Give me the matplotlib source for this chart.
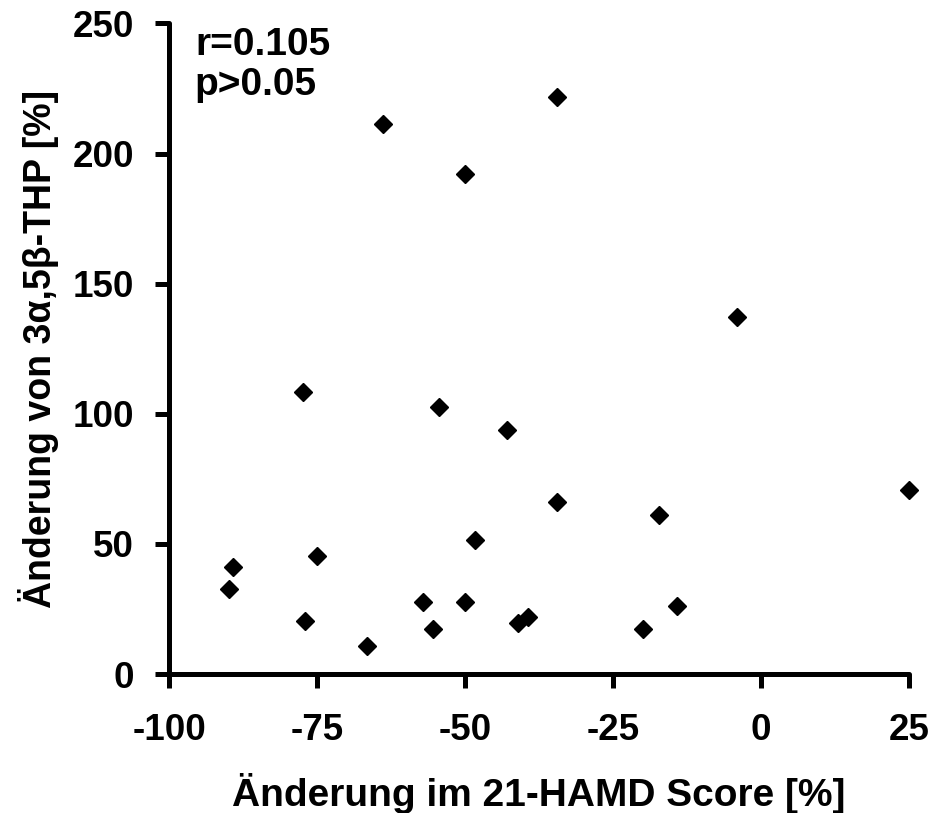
import matplotlib
matplotlib.use("Agg")
import matplotlib.pyplot as plt

# change in 21-HAMD score [%] vs change in 3a,5b-THP [%]
hamd_change = [-77.3, -75.0, -89.2, -89.9, -77.0, -66.5,
               -54.4, -42.9, -34.4, -48.3, -57.1, -50.0, -55.4, -41.0, -39.3,
               25.0, -17.3, -14.2, -19.9,
               -63.8, -34.4, -50.0, -4.1]
thp_change = [108.3, 45.5, 41.0, 32.8, 20.2, 10.6,
              102.5, 93.6, 66.2, 51.4, 27.8, 27.8, 17.2, 19.5, 21.9,
              70.6, 61.1, 26.1, 17.3,
              211.4, 221.8, 192.1, 137.3]

x_ticks = [-100, -75, -50, -25, 0, 25]
y_ticks = [0, 50, 100, 150, 200, 250]

plt.rcParams['font.family'] = ['Liberation Sans', 'DejaVu Sans']
plt.rcParams['font.weight'] = 'bold'

fig = plt.figure(figsize=(9.34, 8.13), dpi=100)
ax = fig.add_axes([169 / 934, 1 - 674 / 813, 740 / 934, 650.5 / 813])

ax.plot(hamd_change, thp_change, linestyle='none', marker='D',
        markersize=9.5, color='black', clip_on=False)

ax.set_xlim(-100, 25)
ax.set_ylim(0, 250)
ax.set_xticks(x_ticks)
ax.set_yticks(y_ticks)
ax.set_xticklabels([str(v) for v in x_ticks])

for side in ['top', 'right']:
    ax.spines[side].set_visible(False)
for side in ['left', 'bottom']:
    ax.spines[side].set_linewidth(3.6)
    ax.spines[side].set_capstyle('round')

ax.tick_params(axis='both', direction='out', length=10, width=3.6,
               labelsize=26.5, pad=15)
ax.tick_params(axis='x', pad=18)
for lab in ax.get_xticklabels() + ax.get_yticklabels():
    lab.set_fontweight('bold')

ax.set_xlabel('Änderung im 21-HAMD Score [%]', fontsize=28,
              fontweight='bold', labelpad=18)
ax.set_ylabel('Änderung von 3α,5β-THP [%]', fontsize=27, fontweight='bold',
              labelpad=10)

ax.text(0.035, 0.995, 'r=0.105\np>0.05', transform=ax.transAxes,
        fontsize=28, fontweight='bold', va='top', ha='left', linespacing=1.15)

fig.savefig('out.png', dpi=100)
